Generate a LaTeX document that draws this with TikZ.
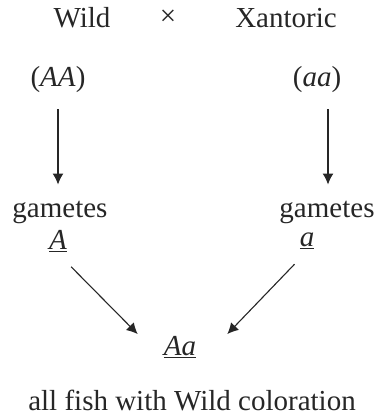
\documentclass[tikz,border=0pt]{standalone}
\usepackage{fontspec}
\setmainfont{Liberation Serif}
\usetikzlibrary{arrows.meta}
\begin{document}
\begin{tikzpicture}[x=1pt,y=-1pt,font=\fontsize{29}{34}\selectfont,
	every node/.style={inner sep=0pt,text=black!85},
	arr/.style={-{Latex[length=11pt,width=11pt]},line width=1.1pt,black!85}]
	\useasboundingbox (0,0) rectangle (378,417);
	% Bố mẹ
	\node (wild) at (82,18) {Wild};
	\node (cross) at (168,18) {×};
	\node (xant) at (286,18) {Xantoric};
	\node (pAA) at (58,80) {(\textit{AA})};
	\node (paa) at (317,80) {(\textit{aa})};
	% Giao tử
	\node (gamL) at (60,212) {gametes};
	\node (gA) at (58,241) {\underline{\textit{A}}};
	\node (gamR) at (327,212) {gametes};
	\node (ga) at (307,241) {\underline{\textit{a}}};
	% Con lai
	\node (Aa) at (180,347) {\underline{\textit{Aa}}};
	\node (note) at (192,401) {all fish with Wild coloration};
	% Mũi tên
	\draw[arr,shorten <=16pt,shorten >=16pt] (pAA.south) -- (pAA.south |- gamL.north);
	\draw[arr,shorten <=16pt,shorten >=16pt] (paa.south) ++(11,0) coordinate (r0) -- (r0 |- gamR.north);
	\draw[arr] ([shift={(4,15)}]gA.south east) -- ([shift={(-26,-2)}]Aa.north west);
	\draw[arr] ([shift={(-5,15)}]ga.south west) -- ([shift={(31,-2)}]Aa.north east);
\end{tikzpicture}
\end{document}
